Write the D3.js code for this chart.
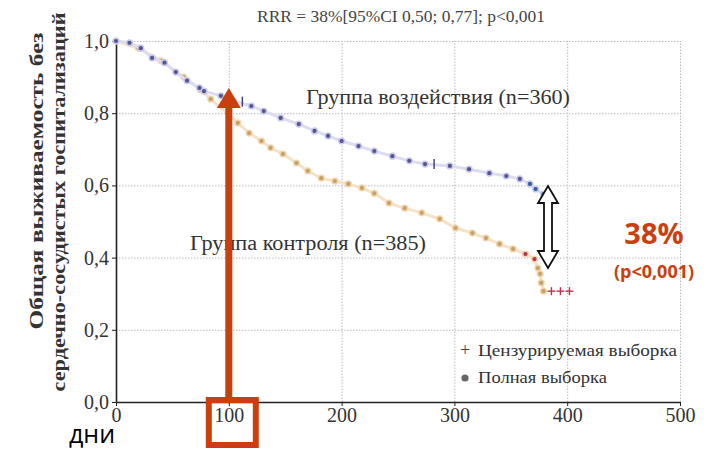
<!DOCTYPE html>
<html>
<head>
<meta charset="utf-8">
<script src="https://cdn.jsdelivr.net/npm/d3@7"></script>
<style>
  html, body { margin: 0; padding: 0; background: #fff; }
  svg { display: block; }
</style>
</head>
<body>
<svg id="chart" width="710" height="450"></svg>
<script>
// Kaplan-Meier points
const treatDays = [0, 12, 22, 32, 43, 53, 63, 74, 78, 93, 104, 120, 131, 146, 162, 176, 188, 200, 215, 229, 245, 260, 274, 296, 313, 331, 346, 358, 367, 372, 379, 385];
const treatSurv = [1.0, 0.995, 0.98, 0.953, 0.94, 0.914, 0.89, 0.87, 0.861, 0.848, 0.834, 0.82, 0.806, 0.787, 0.77, 0.751, 0.737, 0.723, 0.709, 0.695, 0.681, 0.668, 0.659, 0.654, 0.645, 0.634, 0.626, 0.618, 0.604, 0.59, 0.576, 0.562];
const ctrlDays = [0, 20, 40, 60, 75, 84, 108, 118, 129, 137, 148, 160, 170, 182, 194, 206, 218, 229, 242, 256, 271, 287, 301, 316, 328, 340, 352, 363, 371, 374, 376, 377, 379];
const ctrlSurv = [1.0, 0.98, 0.945, 0.9, 0.865, 0.839, 0.773, 0.745, 0.723, 0.704, 0.687, 0.662, 0.64, 0.62, 0.612, 0.604, 0.593, 0.578, 0.551, 0.537, 0.524, 0.507, 0.482, 0.468, 0.454, 0.438, 0.424, 0.41, 0.396, 0.371, 0.355, 0.33, 0.307];

// censored observations
const treatCensDays = [112, 282];
const treatCensSurv = [0.832, 0.659];
const ctrlCensDays = [386, 394, 402];
const ctrlCensSurv = [0.307, 0.307, 0.307];

const xTicks = [0, 100, 200, 300, 400, 500];
const yTicks = [0, 0.2, 0.4, 0.6, 0.8, 1.0];
const fmtY = d => d3.format('.1f')(d).replace('.', ',');

const title = 'RRR = 38%[95%CI  0,50; 0,77]; p<0,001';
const yLabelLines = ['Общая выживаемость без', 'сердечно-сосудистых госпитализаций'];
const treatLabel = 'Группа воздействия (n=360)';
const ctrlLabel = 'Группа контроля (n=385)';
const legendLabels = ['Цензурируемая выборка', 'Полная выборка'];
const effectLabel = '38%';
const pLabel = '(p<0,001)';
const xUnit = 'дни';
const highlightDay = 100;

const accent = '#c9400e';
const SERIF = '"Liberation Serif", "DejaVu Serif", serif';
const SANS = '"Open Sans", "Liberation Sans", sans-serif';

const svg = d3.select('#chart');
const x = d3.scaleLinear().domain([0, 500]).range([116, 680]);
const y = d3.scaleLinear().domain([0, 1]).range([402, 41]);

// stretch a text to a given width (the source face runs wider than Times)
const fit = (sel, w) => sel.attr('textLength', w).attr('lengthAdjust', 'spacingAndGlyphs');

// grid
const grid = svg.append('g').attr('class', 'grid');
grid.append('g')
  .attr('transform', `translate(0,${y(0)})`)
  .call(d3.axisBottom(x).tickValues(xTicks.slice(1)).tickSize(-(y(0) - y(1))).tickFormat(''))
  .call(g => g.select('.domain').remove())
  .selectAll('line').attr('stroke', '#bbb').attr('stroke-dasharray', '1.5,1.5');
grid.append('g')
  .attr('transform', `translate(${x(0)},0)`)
  .call(d3.axisRight(y).tickValues(yTicks.slice(1)).tickSize(x(500) - x(0)).tickFormat(''))
  .call(g => g.select('.domain').remove())
  .selectAll('line').attr('stroke', '#bbb').attr('stroke-dasharray', '1.5,1.5');

// axes
const xAxis = svg.append('g')
  .attr('transform', `translate(0,${y(0)})`)
  .call(d3.axisBottom(x).tickValues(xTicks).tickSize(4).tickPadding(2).tickSizeOuter(0));
xAxis.select('.domain').attr('stroke', '#222').attr('stroke-width', 1.6);
xAxis.selectAll('line').attr('stroke', '#222');
xAxis.selectAll('text').style('font-family', SERIF).style('font-size', '20px').attr('fill', '#333');

const yAxis = svg.append('g')
  .attr('transform', `translate(${x(0)},0)`)
  .call(d3.axisLeft(y).tickValues(yTicks).tickFormat(fmtY).tickSize(4).tickPadding(3).tickSizeOuter(0));
yAxis.select('.domain').attr('stroke', '#222').attr('stroke-width', 1.6);
yAxis.selectAll('line').attr('stroke', '#222');
yAxis.selectAll('text').style('font-family', SERIF).style('font-size', '20px').attr('fill', '#333');

// title
svg.append('text')
  .attr('x', 401).attr('y', 22)
  .attr('text-anchor', 'middle').style('font-family', SERIF).style('font-size', '16px').attr('fill', '#444')
  .text(title)
  .call(fit, 288);

// y label, two rotated lines
const yLabelPos = [{ cx: 43, cy: 181, w: 297 }, { cx: 65, cy: 202, w: 379 }];
svg.selectAll('text.ylab').data(yLabelLines).join('text')
  .attr('class', 'ylab')
  .attr('transform', (d, i) => `translate(${yLabelPos[i].cx},${yLabelPos[i].cy}) rotate(-90)`)
  .attr('text-anchor', 'middle')
  .style('font-family', SERIF).style('font-weight', 'bold').style('font-size', '19.5px').attr('fill', '#333')
  .text(d => d)
  .each(function (d, i) { fit(d3.select(this), yLabelPos[i].w); });

// curves
function drawSeries(days, surv, lineColor, dotColor, dotHalo, endColor, endFrom) {
  const pts = days.map((d, i) => [d, surv[i]]);
  svg.append('path')
    .datum(pts)
    .attr('fill', 'none')
    .attr('stroke', lineColor)
    .attr('stroke-width', 3)
    .attr('d', d3.line().x(d => x(d[0])).y(d => y(d[1])));
  svg.append('g').selectAll('circle').data(pts).join('circle')
    .attr('cx', d => x(d[0])).attr('cy', d => y(d[1]))
    .attr('r', 3.6).attr('fill', dotHalo);
  svg.append('g').selectAll('circle').data(pts).join('circle')
    .attr('cx', d => x(d[0])).attr('cy', d => y(d[1]))
    .attr('r', 2.1)
    .attr('fill', d => d[0] >= endFrom[0] && d[0] <= endFrom[1] ? endColor : dotColor);
}

drawSeries(ctrlDays, ctrlSurv, '#f6e2c4', '#c7a066', '#efd6ae', '#c0304a', [363, 371]);
drawSeries(treatDays, treatSurv, '#dcdcf2', '#555590', '#c9c9ea', '#2e5f9c', [367, 385]);

// censor marks
svg.append('g').selectAll('line').data(treatCensDays.map((d, i) => [d, treatCensSurv[i]])).join('line')
  .attr('x1', d => x(d[0])).attr('x2', d => x(d[0]))
  .attr('y1', d => y(d[1]) - 5).attr('y2', d => y(d[1]) + 5)
  .attr('stroke', '#3b3b78').attr('stroke-width', 1.4);
const cc = svg.append('g').attr('stroke', '#c43050').attr('stroke-width', 1.4);
ctrlCensDays.forEach((d, i) => {
  cc.append('line').attr('x1', x(d) - 4).attr('x2', x(d) + 4).attr('y1', y(ctrlCensSurv[i])).attr('y2', y(ctrlCensSurv[i]));
  cc.append('line').attr('x1', x(d)).attr('x2', x(d)).attr('y1', y(ctrlCensSurv[i]) - 4).attr('y2', y(ctrlCensSurv[i]) + 4);
});

// group labels
svg.append('text')
  .attr('x', 306).attr('y', 104).style('font-family', SERIF).style('font-size', '20px').attr('fill', '#333')
  .text(treatLabel)
  .call(fit, 264);
svg.append('text')
  .attr('x', 190).attr('y', 250).style('font-family', SERIF).style('font-size', '20px').attr('fill', '#333')
  .text(ctrlLabel)
  .call(fit, 236);

// legend
const legendWidths = [199, 129];
const lg = svg.append('g');
lg.append('text').attr('x', 465).attr('y', 356).attr('text-anchor', 'middle')
  .style('font-family', SERIF).style('font-size', '18px').attr('fill', '#444').text('+');
lg.append('circle').attr('cx', 465).attr('cy', 378).attr('r', 3.6).attr('fill', '#666');
lg.selectAll('text.lbl').data(legendLabels).join('text')
  .attr('class', 'lbl')
  .attr('x', 478).attr('y', (d, i) => 356 + i * 27)
  .style('font-family', SERIF).style('font-size', '17px').attr('fill', '#333')
  .text(d => d)
  .each(function (d, i) { fit(d3.select(this), legendWidths[i]); });

// double arrow between curves
const ax = 548, aTop = 186, aBot = 268, hw = 10, hh = 17, sw = 4;
svg.append('path')
  .attr('d', `M${ax},${aTop} L${ax + hw},${aTop + hh} L${ax + sw},${aTop + hh} L${ax + sw},${aBot - hh} L${ax + hw},${aBot - hh} L${ax},${aBot} L${ax - hw},${aBot - hh} L${ax - sw},${aBot - hh} L${ax - sw},${aTop + hh} L${ax - hw},${aTop + hh} Z`)
  .attr('fill', '#fff').attr('stroke', '#111').attr('stroke-width', 1.8).attr('stroke-linejoin', 'miter');

// highlight arrow at day 100
const hx = x(highlightDay);
svg.append('rect')
  .attr('x', hx - 3.5).attr('y', 106).attr('width', 7).attr('height', y(0) - 106)
  .attr('fill', accent);
svg.append('path')
  .attr('d', `M${hx},88 L${hx + 12},108 L${hx - 12},108 Z`)
  .attr('fill', accent);
svg.append('rect')
  .attr('x', hx - 20).attr('y', 400).attr('width', 47).attr('height', 45)
  .attr('fill', 'none').attr('stroke', accent).attr('stroke-width', 6);

// effect annotation
svg.append('text')
  .attr('x', 654).attr('y', 244).attr('text-anchor', 'middle')
  .style('font-family', SANS).style('font-weight', 'bold').style('font-size', '29px').attr('fill', accent)
  .text(effectLabel);
svg.append('text')
  .attr('x', 654).attr('y', 278).attr('text-anchor', 'middle')
  .style('font-family', SANS).style('font-weight', 'bold').style('font-size', '18px').attr('fill', accent)
  .text(pLabel);

// unit label
svg.append('text')
  .attr('x', 69).attr('y', 443)
  .style('font-family', SANS).style('font-size', '25px').attr('fill', '#000')
  .text(xUnit);
</script>
</body>
</html>
